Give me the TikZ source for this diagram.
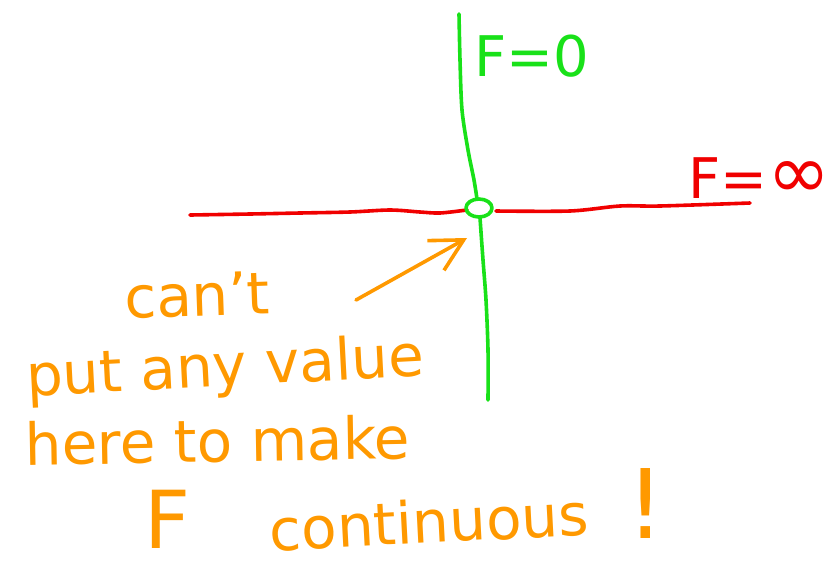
\documentclass[tikz,border=0pt]{standalone}
\usepackage{fontspec}
\setmainfont{DejaVu Sans}
\usetikzlibrary{shapes.geometric,arrows.meta}
\definecolor{penred}{RGB}{240,0,0}
\definecolor{pengreen}{RGB}{25,225,25}
\definecolor{penorange}{RGB}{255,153,0}
\tikzset{
  pen/.style={line width=3.6pt, line cap=round, line join=round},
  scrawl/.style={anchor=base, inner sep=0pt, text=penorange, font=\fontsize{58}{58}\selectfont},
  tag/.style={anchor=base west, inner sep=0pt, font=\fontsize{56}{56}\selectfont}
}
\begin{document}
\begin{tikzpicture}[x=1pt, y=1pt]
  \useasboundingbox (0,0) rectangle (837,-571);
  \coordinate (arrowtail) at (356,-300); \coordinate (arrowtip) at (467,-238);
  % F = infinity line
  \draw[pen, penred] plot[smooth] coordinates {(190,-215) (250,-214) (300,-213) (350,-212) (390,-210) (420,-212) (440,-213) (467,-210)};
  \draw[pen, penred] plot[smooth] coordinates {(496,-211) (570,-211) (620,-206) (660,-206) (750,-203)};
  % F = 0 line
  \draw[pen, pengreen] plot[smooth] coordinates {(459,-14) (460,-60) (462,-110) (468,-150) (474,-180) (477,-199)};
  \draw[pen, pengreen] plot[smooth] coordinates {(480,-218) (483,-260) (486,-300) (488,-350) (488,-400)};
  \node[pen, draw=pengreen, ellipse, minimum width=26, minimum height=18, inner sep=0pt] (hole) at (479,-208) {};
  % labels
  \node[tag, text=pengreen] (fzero) at (474,-76) {F=0};
  \node[tag, text=penred] (finf) at (688,-198) {F=\fontsize{76}{76}\selectfont ∞};
  % note
  \draw[pen, penorange, -{Straight Barb[length=32pt, width=34pt]}] (arrowtail) -- (arrowtip);
  \node[scrawl, rotate=2] (cant) at (198,-316) {can't};
  \node[scrawl, rotate=3] (putany) at (226,-386) {put any value};
  \node[scrawl, rotate=1] (heretomake) at (218,-462) {here to make};
  \node[scrawl, font=\fontsize{80}{80}\selectfont] (bigf) at (168,-548) {F};
  \node[scrawl, rotate=3] (contin) at (430,-543) {continuous};
  \node[scrawl, font=\fontsize{96}{96}\selectfont] (bang) at (646,-538) {!};
\end{tikzpicture}
\end{document}
